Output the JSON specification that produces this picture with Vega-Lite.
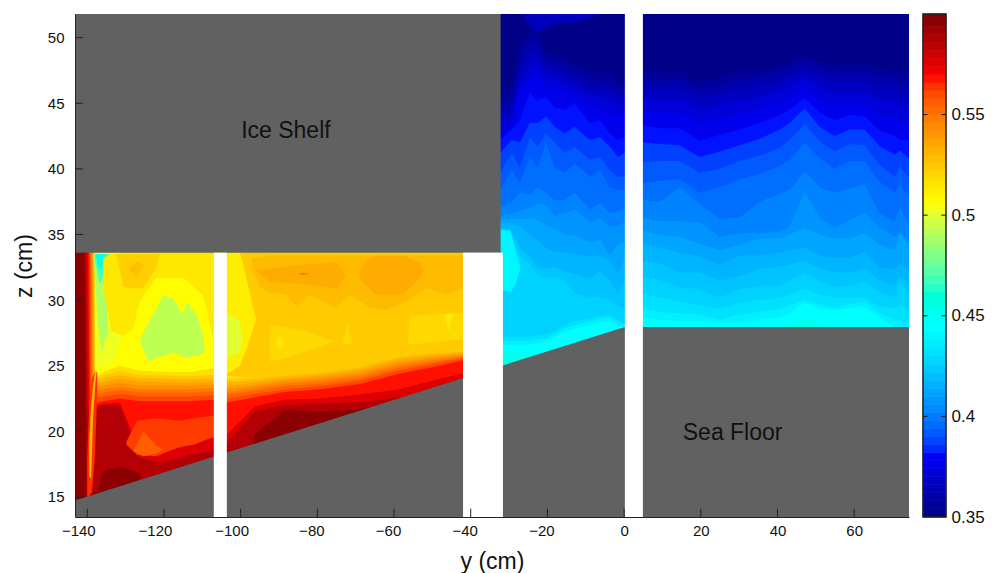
{"$schema":"https://vega.github.io/schema/vega-lite/v6.json","background":"white","padding":{"left":13,"top":13,"right":0,"bottom":0},"config":{"font":"Liberation Sans","view":{"stroke":null}},"spacing":13,"hconcat":[{"width":834,"height":503,"layer":[
{"data":{"values":[
{"l":0.452,"y":-32.4,"z":13.47},{"l":0.452,"y":74.3,"z":13.47},
{"l":0.444,"y":-32.4,"z":26.1},{"l":0.444,"y":-29.3,"z":26.1},{"l":0.444,"y":-27.2,"z":26},{"l":0.444,"y":-24.6,"z":25.9},{"l":0.444,"y":-22.5,"z":25.9},{"l":0.444,"y":-20.4,"z":25.9},{"l":0.444,"y":-18.1,"z":26},{"l":0.444,"y":-15.5,"z":26.3},{"l":0.444,"y":-12.9,"z":26.6},{"l":0.444,"y":-8.9,"z":26.9},{"l":0.444,"y":-6.3,"z":27},{"l":0.444,"y":-3.7,"z":27.2},{"l":0.444,"y":-1.6,"z":27.5},{"l":0.444,"y":0.2,"z":27.7},{"l":0.444,"y":4.9,"z":27.5},{"l":0.444,"y":35.4,"z":27.5},{"l":0.444,"y":40.6,"z":27.8},{"l":0.444,"y":43.2,"z":28.2},{"l":0.444,"y":47.1,"z":28.6},{"l":0.444,"y":51,"z":28.2},{"l":0.444,"y":54.9,"z":27.8},{"l":0.444,"y":58.8,"z":27.5},{"l":0.444,"y":74.3,"z":27.5},
{"l":0.438,"y":-32.4,"z":26.6},{"l":0.438,"y":-29.3,"z":26.6},{"l":0.438,"y":-27.2,"z":26.6},{"l":0.438,"y":-24.6,"z":26.6},{"l":0.438,"y":-22.5,"z":26.7},{"l":0.438,"y":-20.4,"z":26.8},{"l":0.438,"y":-18.1,"z":27.2},{"l":0.438,"y":-15.5,"z":27.6},{"l":0.438,"y":-12.9,"z":27.8},{"l":0.438,"y":-8.9,"z":28.1},{"l":0.438,"y":-6.3,"z":28.3},{"l":0.438,"y":-3.7,"z":28.4},{"l":0.438,"y":-1.6,"z":28},{"l":0.438,"y":0.2,"z":28},{"l":0.438,"y":4.9,"z":28.7},{"l":0.438,"y":9.3,"z":28.5},{"l":0.438,"y":14.5,"z":28.4},{"l":0.438,"y":19.7,"z":28.4},{"l":0.438,"y":24.9,"z":28.3},{"l":0.438,"y":30.1,"z":28.3},{"l":0.438,"y":35.4,"z":28.5},{"l":0.438,"y":40.6,"z":28.7},{"l":0.438,"y":43.2,"z":29},{"l":0.438,"y":47.1,"z":29.8},{"l":0.438,"y":51,"z":29.4},{"l":0.438,"y":54.9,"z":29.2},{"l":0.438,"y":58.8,"z":29.4},{"l":0.438,"y":62.7,"z":29.5},{"l":0.438,"y":66.7,"z":28.7},{"l":0.438,"y":70.6,"z":27.9},{"l":0.438,"y":71.9,"z":27.9},{"l":0.438,"y":74.3,"z":27.9},
{"l":0.432,"y":-32.4,"z":26.9},{"l":0.432,"y":-29.3,"z":26.9},{"l":0.432,"y":-27.2,"z":26.9},{"l":0.432,"y":-24.6,"z":26.9},{"l":0.432,"y":-22.5,"z":27},{"l":0.432,"y":-20.4,"z":27.1},{"l":0.432,"y":-18.1,"z":27.4},{"l":0.432,"y":-15.5,"z":27.9},{"l":0.432,"y":-12.9,"z":28.1},{"l":0.432,"y":-8.9,"z":28.4},{"l":0.432,"y":-6.3,"z":28.6},{"l":0.432,"y":-3.7,"z":28.7},{"l":0.432,"y":-1.6,"z":28.3},{"l":0.432,"y":0.2,"z":28.1},{"l":0.432,"y":4.9,"z":29.4},{"l":0.432,"y":9.3,"z":29.1},{"l":0.432,"y":14.5,"z":29},{"l":0.432,"y":19.7,"z":28.9},{"l":0.432,"y":24.9,"z":28.5},{"l":0.432,"y":30.1,"z":28.9},{"l":0.432,"y":35.4,"z":29.1},{"l":0.432,"y":40.6,"z":29.3},{"l":0.432,"y":43.2,"z":29.6},{"l":0.432,"y":47.1,"z":30},{"l":0.432,"y":51,"z":29.7},{"l":0.432,"y":54.9,"z":29.4},{"l":0.432,"y":58.8,"z":29.7},{"l":0.432,"y":62.7,"z":29.9},{"l":0.432,"y":66.7,"z":29},{"l":0.432,"y":70.6,"z":28.5},{"l":0.432,"y":71.9,"z":28.4},{"l":0.432,"y":74.3,"z":28.2},
{"l":0.427,"y":-32.4,"z":27.2},{"l":0.427,"y":-29.3,"z":27.2},{"l":0.427,"y":-27.2,"z":27.2},{"l":0.427,"y":-24.6,"z":27.2},{"l":0.427,"y":-22.5,"z":27.3},{"l":0.427,"y":-20.4,"z":27.4},{"l":0.427,"y":-18.1,"z":27.6},{"l":0.427,"y":-15.5,"z":28.1},{"l":0.427,"y":-12.9,"z":28.4},{"l":0.427,"y":-8.9,"z":28.6},{"l":0.427,"y":-6.3,"z":28.8},{"l":0.427,"y":-3.7,"z":28.9},{"l":0.427,"y":-1.6,"z":28.5},{"l":0.427,"y":0.2,"z":28.2},{"l":0.427,"y":4.9,"z":30.5},{"l":0.427,"y":9.3,"z":30.2},{"l":0.427,"y":14.5,"z":29.9},{"l":0.427,"y":19.7,"z":29.6},{"l":0.427,"y":24.9,"z":29.4},{"l":0.427,"y":30.1,"z":29.8},{"l":0.427,"y":35.4,"z":30},{"l":0.427,"y":40.6,"z":30.2},{"l":0.427,"y":43.2,"z":30.4},{"l":0.427,"y":47.1,"z":30.9},{"l":0.427,"y":51,"z":30.4},{"l":0.427,"y":54.9,"z":30.2},{"l":0.427,"y":58.8,"z":30.2},{"l":0.427,"y":62.7,"z":30.2},{"l":0.427,"y":66.7,"z":29.5},{"l":0.427,"y":70.6,"z":29.4},{"l":0.427,"y":71.9,"z":29.7},{"l":0.427,"y":74.3,"z":29.2},
{"l":0.422,"y":-32.4,"z":35.3},{"l":0.422,"y":-29.3,"z":34.9},{"l":0.422,"y":-27.2,"z":33.4},{"l":0.422,"y":-24.6,"z":32.8},{"l":0.422,"y":-22.5,"z":31.9},{"l":0.422,"y":-20.4,"z":31.7},{"l":0.422,"y":-18.1,"z":31.8},{"l":0.422,"y":-15.5,"z":31.5},{"l":0.422,"y":-12.9,"z":30.5},{"l":0.422,"y":-8.9,"z":30.2},{"l":0.422,"y":-6.3,"z":30.2},{"l":0.422,"y":-3.7,"z":30},{"l":0.422,"y":-1.6,"z":29.6},{"l":0.422,"y":0.2,"z":29.3},{"l":0.422,"y":4.9,"z":31.8},{"l":0.422,"y":9.3,"z":31.5},{"l":0.422,"y":14.5,"z":31},{"l":0.422,"y":19.7,"z":30.8},{"l":0.422,"y":24.9,"z":30.2},{"l":0.422,"y":30.1,"z":30.8},{"l":0.422,"y":35.4,"z":31.1},{"l":0.422,"y":40.6,"z":31.1},{"l":0.422,"y":43.2,"z":31.5},{"l":0.422,"y":47.1,"z":32.1},{"l":0.422,"y":51,"z":31.4},{"l":0.422,"y":54.9,"z":31},{"l":0.422,"y":58.8,"z":31.1},{"l":0.422,"y":62.7,"z":31.4},{"l":0.422,"y":66.7,"z":30.6},{"l":0.422,"y":70.6,"z":30.2},{"l":0.422,"y":71.9,"z":31.5},{"l":0.422,"y":74.3,"z":30.4},
{"l":0.417,"y":-32.4,"z":35.4},{"l":0.417,"y":-29.3,"z":35.2},{"l":0.417,"y":-27.2,"z":34},{"l":0.417,"y":-24.6,"z":33.3},{"l":0.417,"y":-22.5,"z":32.5},{"l":0.417,"y":-20.4,"z":32.4},{"l":0.417,"y":-18.1,"z":32.5},{"l":0.417,"y":-15.5,"z":32.2},{"l":0.417,"y":-12.9,"z":32},{"l":0.417,"y":-8.9,"z":31.6},{"l":0.417,"y":-6.3,"z":32.2},{"l":0.417,"y":-3.7,"z":31.5},{"l":0.417,"y":-1.6,"z":30.5},{"l":0.417,"y":0.2,"z":31.5},{"l":0.417,"y":4.9,"z":33},{"l":0.417,"y":9.3,"z":32.8},{"l":0.417,"y":14.5,"z":32.1},{"l":0.417,"y":19.7,"z":32.1},{"l":0.417,"y":24.9,"z":31.5},{"l":0.417,"y":30.1,"z":31.8},{"l":0.417,"y":35.4,"z":32.4},{"l":0.417,"y":40.6,"z":32.5},{"l":0.417,"y":43.2,"z":32.7},{"l":0.417,"y":47.1,"z":33},{"l":0.417,"y":51,"z":32.4},{"l":0.417,"y":54.9,"z":32.1},{"l":0.417,"y":58.8,"z":32.1},{"l":0.417,"y":62.7,"z":32.4},{"l":0.417,"y":66.7,"z":31.5},{"l":0.417,"y":70.6,"z":31.1},{"l":0.417,"y":71.9,"z":31.8},{"l":0.417,"y":74.3,"z":31.3},
{"l":0.412,"y":-32.4,"z":35.9},{"l":0.412,"y":-29.3,"z":35.8},{"l":0.412,"y":-27.2,"z":35.6},{"l":0.412,"y":-24.6,"z":35},{"l":0.412,"y":-22.5,"z":34.5},{"l":0.412,"y":-20.4,"z":34},{"l":0.412,"y":-18.1,"z":33.7},{"l":0.412,"y":-15.5,"z":33.6},{"l":0.412,"y":-12.9,"z":33.5},{"l":0.412,"y":-8.9,"z":33.3},{"l":0.412,"y":-6.3,"z":33.4},{"l":0.412,"y":-3.7,"z":33},{"l":0.412,"y":-1.6,"z":32},{"l":0.412,"y":0.2,"z":33.2},{"l":0.412,"y":4.9,"z":34.3},{"l":0.412,"y":9.3,"z":34},{"l":0.412,"y":14.5,"z":33.6},{"l":0.412,"y":19.7,"z":33.3},{"l":0.412,"y":24.9,"z":32.7},{"l":0.412,"y":30.1,"z":33.4},{"l":0.412,"y":35.4,"z":33.4},{"l":0.412,"y":40.6,"z":33.6},{"l":0.412,"y":43.2,"z":33.8},{"l":0.412,"y":47.1,"z":34},{"l":0.412,"y":51,"z":33.4},{"l":0.412,"y":54.9,"z":33.2},{"l":0.412,"y":58.8,"z":33.2},{"l":0.412,"y":62.7,"z":33.7},{"l":0.412,"y":66.7,"z":32.5},{"l":0.412,"y":70.6,"z":32.3},{"l":0.412,"y":71.9,"z":32.8},{"l":0.412,"y":74.3,"z":32.3},
{"l":0.407,"y":-32.4,"z":36.1},{"l":0.407,"y":-29.3,"z":36.2},{"l":0.407,"y":-27.2,"z":36.2},{"l":0.407,"y":-24.6,"z":36.2},{"l":0.407,"y":-22.5,"z":36.1},{"l":0.407,"y":-20.4,"z":35.7},{"l":0.407,"y":-18.1,"z":35.4},{"l":0.407,"y":-15.5,"z":35},{"l":0.407,"y":-12.9,"z":34.9},{"l":0.407,"y":-8.9,"z":34.4},{"l":0.407,"y":-6.3,"z":34.6},{"l":0.407,"y":-3.7,"z":33.5},{"l":0.407,"y":-1.6,"z":34.2},{"l":0.407,"y":0.2,"z":34.4},{"l":0.407,"y":4.9,"z":35.3},{"l":0.407,"y":9.3,"z":35},{"l":0.407,"y":14.5,"z":34.8},{"l":0.407,"y":19.7,"z":34.3},{"l":0.407,"y":24.9,"z":33.8},{"l":0.407,"y":30.1,"z":34.2},{"l":0.407,"y":35.4,"z":34.7},{"l":0.407,"y":40.6,"z":34.7},{"l":0.407,"y":43.2,"z":35},{"l":0.407,"y":47.1,"z":35.5},{"l":0.407,"y":51,"z":35},{"l":0.407,"y":54.9,"z":34.7},{"l":0.407,"y":58.8,"z":34.7},{"l":0.407,"y":62.7,"z":35.1},{"l":0.407,"y":66.7,"z":34.2},{"l":0.407,"y":70.6,"z":33.8},{"l":0.407,"y":71.9,"z":35.1},{"l":0.407,"y":74.3,"z":34.2},
{"l":0.402,"y":-32.4,"z":36.4},{"l":0.402,"y":-29.3,"z":36.6},{"l":0.402,"y":-27.2,"z":36.8},{"l":0.402,"y":-24.6,"z":37},{"l":0.402,"y":-22.5,"z":37.4},{"l":0.402,"y":-20.4,"z":37.2},{"l":0.402,"y":-18.1,"z":36.4},{"l":0.402,"y":-15.5,"z":36.6},{"l":0.402,"y":-12.9,"z":36.9},{"l":0.402,"y":-8.9,"z":35.9},{"l":0.402,"y":-6.3,"z":36.2},{"l":0.402,"y":-3.7,"z":35.6},{"l":0.402,"y":-1.6,"z":35.6},{"l":0.402,"y":0.2,"z":36},{"l":0.402,"y":4.9,"z":36.3},{"l":0.402,"y":9.3,"z":36},{"l":0.402,"y":14.5,"z":36},{"l":0.402,"y":19.7,"z":35.9},{"l":0.402,"y":24.9,"z":34.8},{"l":0.402,"y":30.1,"z":35.1},{"l":0.402,"y":35.4,"z":35.1},{"l":0.402,"y":40.6,"z":35.2},{"l":0.402,"y":43.2,"z":35.6},{"l":0.402,"y":47.1,"z":38.2},{"l":0.402,"y":51,"z":36.3},{"l":0.402,"y":54.9,"z":35.5},{"l":0.402,"y":58.8,"z":36.1},{"l":0.402,"y":62.7,"z":36.6},{"l":0.402,"y":66.7,"z":35.5},{"l":0.402,"y":70.6,"z":34.8},{"l":0.402,"y":71.9,"z":35.2},{"l":0.402,"y":74.3,"z":34.4},
{"l":0.397,"y":-32.4,"z":37},{"l":0.397,"y":-29.3,"z":37.5},{"l":0.397,"y":-27.2,"z":38.2},{"l":0.397,"y":-24.6,"z":38},{"l":0.397,"y":-22.5,"z":38.6},{"l":0.397,"y":-20.4,"z":38.2},{"l":0.397,"y":-18.1,"z":37.6},{"l":0.397,"y":-15.5,"z":37.6},{"l":0.397,"y":-12.9,"z":38.2},{"l":0.397,"y":-8.9,"z":36.9},{"l":0.397,"y":-6.3,"z":37.4},{"l":0.397,"y":-3.7,"z":36.6},{"l":0.397,"y":-1.6,"z":36.8},{"l":0.397,"y":0.2,"z":37},{"l":0.397,"y":4.9,"z":37.6},{"l":0.397,"y":9.3,"z":37.5},{"l":0.397,"y":14.5,"z":38.6},{"l":0.397,"y":19.7,"z":37.3},{"l":0.397,"y":24.9,"z":36.2},{"l":0.397,"y":30.1,"z":36.3},{"l":0.397,"y":35.4,"z":37.5},{"l":0.397,"y":40.6,"z":38.1},{"l":0.397,"y":43.2,"z":38.4},{"l":0.397,"y":47.1,"z":39.8},{"l":0.397,"y":51,"z":38.6},{"l":0.397,"y":54.9,"z":38.2},{"l":0.397,"y":58.8,"z":38.5},{"l":0.397,"y":62.7,"z":38.8},{"l":0.397,"y":66.7,"z":36.6},{"l":0.397,"y":70.6,"z":36},{"l":0.397,"y":71.9,"z":37.1},{"l":0.397,"y":74.3,"z":35.7},
{"l":0.392,"y":-32.4,"z":38.4},{"l":0.392,"y":-29.3,"z":39.9},{"l":0.392,"y":-27.2,"z":38.9},{"l":0.392,"y":-24.6,"z":40.9},{"l":0.392,"y":-22.5,"z":40.1},{"l":0.392,"y":-20.4,"z":42},{"l":0.392,"y":-18.1,"z":40.1},{"l":0.392,"y":-15.5,"z":39.7},{"l":0.392,"y":-12.9,"z":40.4},{"l":0.392,"y":-8.9,"z":39.4},{"l":0.392,"y":-6.3,"z":39.9},{"l":0.392,"y":-3.7,"z":38.6},{"l":0.392,"y":-1.6,"z":38.4},{"l":0.392,"y":0.2,"z":38.4},{"l":0.392,"y":4.9,"z":38.9},{"l":0.392,"y":9.3,"z":39.1},{"l":0.392,"y":14.5,"z":39.2},{"l":0.392,"y":19.7,"z":38.2},{"l":0.392,"y":24.9,"z":38.6},{"l":0.392,"y":30.1,"z":39.2},{"l":0.392,"y":35.4,"z":39.6},{"l":0.392,"y":40.6,"z":40.2},{"l":0.392,"y":43.2,"z":40.7},{"l":0.392,"y":47.1,"z":42},{"l":0.392,"y":51,"z":40.8},{"l":0.392,"y":54.9,"z":40},{"l":0.392,"y":58.8,"z":40.6},{"l":0.392,"y":62.7,"z":40.6},{"l":0.392,"y":66.7,"z":39},{"l":0.392,"y":70.6,"z":38.2},{"l":0.392,"y":71.9,"z":38.8},{"l":0.392,"y":74.3,"z":37.9},
{"l":0.387,"y":-32.4,"z":39.7},{"l":0.387,"y":-29.3,"z":41.2},{"l":0.387,"y":-27.2,"z":40.1},{"l":0.387,"y":-24.6,"z":42.4},{"l":0.387,"y":-22.5,"z":41.7},{"l":0.387,"y":-20.4,"z":42.7},{"l":0.387,"y":-18.1,"z":42},{"l":0.387,"y":-15.5,"z":41.2},{"l":0.387,"y":-12.9,"z":41.7},{"l":0.387,"y":-8.9,"z":40.7},{"l":0.387,"y":-6.3,"z":40.9},{"l":0.387,"y":-3.7,"z":39.9},{"l":0.387,"y":-1.6,"z":39.4},{"l":0.387,"y":0.2,"z":39.4},{"l":0.387,"y":4.9,"z":40.5},{"l":0.387,"y":9.3,"z":40.6},{"l":0.387,"y":14.5,"z":40.6},{"l":0.387,"y":19.7,"z":39.7},{"l":0.387,"y":24.9,"z":40},{"l":0.387,"y":30.1,"z":40.6},{"l":0.387,"y":35.4,"z":41},{"l":0.387,"y":40.6,"z":41.6},{"l":0.387,"y":43.2,"z":42.2},{"l":0.387,"y":47.1,"z":43.4},{"l":0.387,"y":51,"z":42.1},{"l":0.387,"y":54.9,"z":41.3},{"l":0.387,"y":58.8,"z":41.9},{"l":0.387,"y":62.7,"z":41.8},{"l":0.387,"y":66.7,"z":40.3},{"l":0.387,"y":70.6,"z":39.4},{"l":0.387,"y":71.9,"z":40.2},{"l":0.387,"y":74.3,"z":39.3},
{"l":0.382,"y":-32.4,"z":41.2},{"l":0.382,"y":-29.3,"z":42.2},{"l":0.382,"y":-27.2,"z":42},{"l":0.382,"y":-24.6,"z":43.5},{"l":0.382,"y":-22.5,"z":43.5},{"l":0.382,"y":-20.4,"z":44},{"l":0.382,"y":-18.1,"z":43.2},{"l":0.382,"y":-15.5,"z":42.7},{"l":0.382,"y":-12.9,"z":43.2},{"l":0.382,"y":-8.9,"z":42.2},{"l":0.382,"y":-6.3,"z":42.4},{"l":0.382,"y":-3.7,"z":41.7},{"l":0.382,"y":-1.6,"z":40.9},{"l":0.382,"y":0.2,"z":41.2},{"l":0.382,"y":4.9,"z":42},{"l":0.382,"y":9.3,"z":41.9},{"l":0.382,"y":14.5,"z":41.8},{"l":0.382,"y":19.7,"z":40.9},{"l":0.382,"y":24.9,"z":41.3},{"l":0.382,"y":30.1,"z":41.8},{"l":0.382,"y":35.4,"z":42.3},{"l":0.382,"y":40.6,"z":43},{"l":0.382,"y":43.2,"z":43.5},{"l":0.382,"y":47.1,"z":44.6},{"l":0.382,"y":51,"z":43.2},{"l":0.382,"y":54.9,"z":42.5},{"l":0.382,"y":58.8,"z":43},{"l":0.382,"y":62.7,"z":43},{"l":0.382,"y":66.7,"z":41.7},{"l":0.382,"y":70.6,"z":41.1},{"l":0.382,"y":71.9,"z":41.4},{"l":0.382,"y":74.3,"z":40.8},
{"l":0.377,"y":-32.4,"z":42.2},{"l":0.377,"y":-29.3,"z":43},{"l":0.377,"y":-27.2,"z":43.7},{"l":0.377,"y":-24.6,"z":45.8},{"l":0.377,"y":-22.5,"z":45.2},{"l":0.377,"y":-20.4,"z":45.5},{"l":0.377,"y":-18.1,"z":44.7},{"l":0.377,"y":-15.5,"z":44.5},{"l":0.377,"y":-12.9,"z":45},{"l":0.377,"y":-8.9,"z":43.5},{"l":0.377,"y":-6.3,"z":43.7},{"l":0.377,"y":-3.7,"z":42.7},{"l":0.377,"y":-1.6,"z":42.2},{"l":0.377,"y":0.2,"z":42.4},{"l":0.377,"y":4.9,"z":43.3},{"l":0.377,"y":9.3,"z":43.1},{"l":0.377,"y":14.5,"z":43.1},{"l":0.377,"y":19.7,"z":42.1},{"l":0.377,"y":24.9,"z":42.6},{"l":0.377,"y":30.1,"z":43},{"l":0.377,"y":35.4,"z":43.5},{"l":0.377,"y":40.6,"z":44.1},{"l":0.377,"y":43.2,"z":44.5},{"l":0.377,"y":47.1,"z":45.4},{"l":0.377,"y":51,"z":44.3},{"l":0.377,"y":54.9,"z":43.7},{"l":0.377,"y":58.8,"z":44.1},{"l":0.377,"y":62.7,"z":44},{"l":0.377,"y":66.7,"z":42.9},{"l":0.377,"y":70.6,"z":42.5},{"l":0.377,"y":71.9,"z":42.2},{"l":0.377,"y":74.3,"z":42.2},
{"l":0.372,"y":-32.4,"z":42.5},{"l":0.372,"y":-29.3,"z":43.2},{"l":0.372,"y":-27.2,"z":46},{"l":0.372,"y":-24.6,"z":46.8},{"l":0.372,"y":-22.5,"z":47},{"l":0.372,"y":-20.4,"z":46.2},{"l":0.372,"y":-18.1,"z":46.2},{"l":0.372,"y":-15.5,"z":45.8},{"l":0.372,"y":-12.9,"z":45.6},{"l":0.372,"y":-8.9,"z":44.8},{"l":0.372,"y":-6.3,"z":44.6},{"l":0.372,"y":-3.7,"z":44.2},{"l":0.372,"y":-1.6,"z":44},{"l":0.372,"y":0.2,"z":44.2},{"l":0.372,"y":4.9,"z":44.5},{"l":0.372,"y":9.3,"z":44.3},{"l":0.372,"y":14.5,"z":44.3},{"l":0.372,"y":19.7,"z":43.4},{"l":0.372,"y":24.9,"z":43.8},{"l":0.372,"y":30.1,"z":44.2},{"l":0.372,"y":35.4,"z":44.6},{"l":0.372,"y":40.6,"z":45},{"l":0.372,"y":43.2,"z":45.4},{"l":0.372,"y":47.1,"z":46.2},{"l":0.372,"y":51,"z":45.3},{"l":0.372,"y":54.9,"z":44.8},{"l":0.372,"y":58.8,"z":45},{"l":0.372,"y":62.7,"z":44.9},{"l":0.372,"y":66.7,"z":44},{"l":0.372,"y":70.6,"z":44},{"l":0.372,"y":71.9,"z":43.5},{"l":0.372,"y":74.3,"z":43.5},
{"l":0.367,"y":-32.4,"z":43.5},{"l":0.367,"y":-29.3,"z":44},{"l":0.367,"y":-27.2,"z":46.7},{"l":0.367,"y":-24.6,"z":47.8},{"l":0.367,"y":-22.5,"z":48},{"l":0.367,"y":-20.4,"z":47},{"l":0.367,"y":-18.1,"z":47},{"l":0.367,"y":-15.5,"z":46.6},{"l":0.367,"y":-12.9,"z":46.2},{"l":0.367,"y":-8.9,"z":45.6},{"l":0.367,"y":-6.3,"z":45.4},{"l":0.367,"y":-3.7,"z":45.3},{"l":0.367,"y":-1.6,"z":44.9},{"l":0.367,"y":0.2,"z":45},{"l":0.367,"y":4.9,"z":45.4},{"l":0.367,"y":9.3,"z":45.2},{"l":0.367,"y":14.5,"z":45.3},{"l":0.367,"y":19.7,"z":44.5},{"l":0.367,"y":24.9,"z":44.8},{"l":0.367,"y":30.1,"z":45.2},{"l":0.367,"y":35.4,"z":45.5},{"l":0.367,"y":40.6,"z":46},{"l":0.367,"y":43.2,"z":46.3},{"l":0.367,"y":47.1,"z":47},{"l":0.367,"y":51,"z":46.2},{"l":0.367,"y":54.9,"z":45.8},{"l":0.367,"y":58.8,"z":45.9},{"l":0.367,"y":62.7,"z":45.8},{"l":0.367,"y":66.7,"z":45.2},{"l":0.367,"y":70.6,"z":45.2},{"l":0.367,"y":71.9,"z":44.7},{"l":0.367,"y":74.3,"z":44.9},
{"l":0.362,"y":-32.4,"z":44.2},{"l":0.362,"y":-29.3,"z":44.5},{"l":0.362,"y":-27.2,"z":47.5},{"l":0.362,"y":-24.6,"z":48.8},{"l":0.362,"y":-22.5,"z":49},{"l":0.362,"y":-20.4,"z":47.6},{"l":0.362,"y":-18.1,"z":47.6},{"l":0.362,"y":-15.5,"z":47.2},{"l":0.362,"y":-12.9,"z":46.8},{"l":0.362,"y":-8.9,"z":46.2},{"l":0.362,"y":-6.3,"z":46},{"l":0.362,"y":-3.7,"z":46},{"l":0.362,"y":-1.6,"z":45.5},{"l":0.362,"y":0.2,"z":45.6},{"l":0.362,"y":4.9,"z":46.2},{"l":0.362,"y":9.3,"z":46},{"l":0.362,"y":14.5,"z":46.1},{"l":0.362,"y":19.7,"z":45.4},{"l":0.362,"y":24.9,"z":45.6},{"l":0.362,"y":30.1,"z":46},{"l":0.362,"y":35.4,"z":46.3},{"l":0.362,"y":40.6,"z":46.7},{"l":0.362,"y":43.2,"z":47},{"l":0.362,"y":47.1,"z":47.6},{"l":0.362,"y":51,"z":47},{"l":0.362,"y":54.9,"z":46.6},{"l":0.362,"y":58.8,"z":46.7},{"l":0.362,"y":62.7,"z":46.6},{"l":0.362,"y":66.7,"z":46.1},{"l":0.362,"y":70.6,"z":46.2},{"l":0.362,"y":71.9,"z":45.5},{"l":0.362,"y":74.3,"z":45.7},
{"l":0.357,"y":-32.4,"z":44.8},{"l":0.357,"y":-29.3,"z":45.2},{"l":0.357,"y":-27.2,"z":48.3},{"l":0.357,"y":-24.6,"z":49.6},{"l":0.357,"y":-22.5,"z":49.7},{"l":0.357,"y":-20.4,"z":48.2},{"l":0.357,"y":-18.1,"z":48.2},{"l":0.357,"y":-15.5,"z":47.8},{"l":0.357,"y":-12.9,"z":47.4},{"l":0.357,"y":-8.9,"z":46.8},{"l":0.357,"y":-6.3,"z":46.6},{"l":0.357,"y":-3.7,"z":46.6},{"l":0.357,"y":-1.6,"z":46},{"l":0.357,"y":0.2,"z":46.2},{"l":0.357,"y":4.9,"z":46.9},{"l":0.357,"y":9.3,"z":46.7},{"l":0.357,"y":14.5,"z":46.8},{"l":0.357,"y":19.7,"z":46.1},{"l":0.357,"y":24.9,"z":46.3},{"l":0.357,"y":30.1,"z":46.8},{"l":0.357,"y":35.4,"z":47},{"l":0.357,"y":40.6,"z":47.4},{"l":0.357,"y":43.2,"z":47.6},{"l":0.357,"y":47.1,"z":48.2},{"l":0.357,"y":51,"z":47.7},{"l":0.357,"y":54.9,"z":47.3},{"l":0.357,"y":58.8,"z":47.4},{"l":0.357,"y":62.7,"z":47.3},{"l":0.357,"y":66.7,"z":47},{"l":0.357,"y":70.6,"z":47},{"l":0.357,"y":71.9,"z":46.4},{"l":0.357,"y":74.3,"z":46.6},
{"l":0.352,"y":-32.4,"z":45.8},{"l":0.352,"y":-29.3,"z":46.2},{"l":0.352,"y":-27.2,"z":49},{"l":0.352,"y":-24.6,"z":50.4},{"l":0.352,"y":-22.5,"z":50.4},{"l":0.352,"y":-20.4,"z":48.8},{"l":0.352,"y":-18.1,"z":48.8},{"l":0.352,"y":-15.5,"z":48.3},{"l":0.352,"y":-12.9,"z":47.9},{"l":0.352,"y":-8.9,"z":47.4},{"l":0.352,"y":-6.3,"z":47.2},{"l":0.352,"y":-3.7,"z":47.3},{"l":0.352,"y":-1.6,"z":46.5},{"l":0.352,"y":0.2,"z":46.6},{"l":0.352,"y":4.9,"z":47.5},{"l":0.352,"y":9.3,"z":47.3},{"l":0.352,"y":14.5,"z":47.4},{"l":0.352,"y":19.7,"z":46.6},{"l":0.352,"y":24.9,"z":47},{"l":0.352,"y":30.1,"z":47.4},{"l":0.352,"y":35.4,"z":47.5},{"l":0.352,"y":40.6,"z":47.8},{"l":0.352,"y":43.2,"z":48.2},{"l":0.352,"y":47.1,"z":48.7},{"l":0.352,"y":51,"z":48.2},{"l":0.352,"y":54.9,"z":47.8},{"l":0.352,"y":58.8,"z":47.9},{"l":0.352,"y":62.7,"z":47.9},{"l":0.352,"y":66.7,"z":47.7},{"l":0.352,"y":70.6,"z":47.5},{"l":0.352,"y":71.9,"z":47.4},{"l":0.352,"y":74.3,"z":47.3},
{"l":0.597,"y":-143.2,"z":13.47},{"l":0.597,"y":-42,"z":13.47},
{"l":0.587,"y":-140.6,"z":33.6},{"l":0.587,"y":-140.3,"z":15},{"l":0.587,"y":-137.2,"z":15.5},{"l":0.587,"y":-135.9,"z":17},{"l":0.587,"y":-131.5,"z":17.3},{"l":0.587,"y":-126.3,"z":16.8},{"l":0.587,"y":-121,"z":10},{"l":0.587,"y":-103.4,"z":10},{"l":0.587,"y":-96.3,"z":19.8},{"l":0.587,"y":-88.5,"z":21.6},{"l":0.587,"y":-79.3,"z":21.5},{"l":0.587,"y":-68.9,"z":21.7},{"l":0.587,"y":-66.3,"z":21.8},{"l":0.587,"y":-58.5,"z":10},{"l":0.587,"y":-42,"z":10},
{"l":0.577,"y":-140.3,"z":33.6},{"l":0.577,"y":-140,"z":21.5},{"l":0.577,"y":-137.2,"z":21.8},{"l":0.577,"y":-135.9,"z":22},{"l":0.577,"y":-131.5,"z":22},{"l":0.577,"y":-126.3,"z":18},{"l":0.577,"y":-121,"z":17.6},{"l":0.577,"y":-113.2,"z":18.2},{"l":0.577,"y":-107,"z":18.6},{"l":0.577,"y":-103.4,"z":19.2},{"l":0.577,"y":-96.3,"z":21.5},{"l":0.577,"y":-88.5,"z":22},{"l":0.577,"y":-79.3,"z":22.1},{"l":0.577,"y":-68.9,"z":22.2},{"l":0.577,"y":-58.5,"z":22.6},{"l":0.577,"y":-48.1,"z":10},{"l":0.577,"y":-42,"z":10},
{"l":0.568,"y":-139.8,"z":33.6},{"l":0.568,"y":-139.6,"z":22},{"l":0.568,"y":-137.2,"z":22},{"l":0.568,"y":-135.9,"z":22.1},{"l":0.568,"y":-131.5,"z":22.2},{"l":0.568,"y":-126.3,"z":18.5},{"l":0.568,"y":-121,"z":18.3},{"l":0.568,"y":-113.2,"z":19},{"l":0.568,"y":-107,"z":19.5},{"l":0.568,"y":-103.4,"z":19.8},{"l":0.568,"y":-96.3,"z":21.9},{"l":0.568,"y":-88.5,"z":22.4},{"l":0.568,"y":-79.3,"z":22.5},{"l":0.568,"y":-68.9,"z":22.8},{"l":0.568,"y":-58.5,"z":23.2},{"l":0.568,"y":-48.1,"z":24},{"l":0.568,"y":-42,"z":24.4},
{"l":0.561,"y":-139.5,"z":33.6},{"l":0.561,"y":-139.3,"z":22.2},{"l":0.561,"y":-137.2,"z":22.2},{"l":0.561,"y":-135.9,"z":22.3},{"l":0.561,"y":-131.5,"z":22.5},{"l":0.561,"y":-126.3,"z":22.3},{"l":0.561,"y":-113.2,"z":22.3},{"l":0.561,"y":-107,"z":22.4},{"l":0.561,"y":-103.4,"z":22.2},{"l":0.561,"y":-96.3,"z":22.6},{"l":0.561,"y":-88.5,"z":23},{"l":0.561,"y":-79.3,"z":23.2},{"l":0.561,"y":-68.9,"z":23.6},{"l":0.561,"y":-58.5,"z":24.4},{"l":0.561,"y":-48.1,"z":25},{"l":0.561,"y":-42,"z":25.4},
{"l":0.555,"y":-139.3,"z":33.6},{"l":0.555,"y":-139.1,"z":22.55},{"l":0.555,"y":-137.2,"z":22.55},{"l":0.555,"y":-135.9,"z":22.65},{"l":0.555,"y":-131.5,"z":22.85},{"l":0.555,"y":-126.3,"z":22.65},{"l":0.555,"y":-113.2,"z":22.65},{"l":0.555,"y":-107,"z":22.75},{"l":0.555,"y":-103.4,"z":22.5},{"l":0.555,"y":-96.3,"z":22.85},{"l":0.555,"y":-88.5,"z":23.2},{"l":0.555,"y":-79.3,"z":23.45},{"l":0.555,"y":-68.9,"z":23.85},{"l":0.555,"y":-58.5,"z":24.65},{"l":0.555,"y":-48.1,"z":25.2},{"l":0.555,"y":-42,"z":25.55},
{"l":0.549,"y":-139.1,"z":33.6},{"l":0.549,"y":-138.9,"z":22.85},{"l":0.549,"y":-137.2,"z":22.85},{"l":0.549,"y":-135.9,"z":22.95},{"l":0.549,"y":-131.5,"z":23.15},{"l":0.549,"y":-126.3,"z":22.95},{"l":0.549,"y":-113.2,"z":22.95},{"l":0.549,"y":-107,"z":23.05},{"l":0.549,"y":-103.4,"z":22.8},{"l":0.549,"y":-96.3,"z":23.1},{"l":0.549,"y":-88.5,"z":23.45},{"l":0.549,"y":-79.3,"z":23.65},{"l":0.549,"y":-68.9,"z":24.05},{"l":0.549,"y":-58.5,"z":24.85},{"l":0.549,"y":-48.1,"z":25.35},{"l":0.549,"y":-42,"z":25.65},
{"l":0.543,"y":-138.9,"z":33.6},{"l":0.543,"y":-138.7,"z":23.1},{"l":0.543,"y":-137.2,"z":23.1},{"l":0.543,"y":-135.9,"z":23.2},{"l":0.543,"y":-131.5,"z":23.4},{"l":0.543,"y":-126.3,"z":23.2},{"l":0.543,"y":-113.2,"z":23.2},{"l":0.543,"y":-107,"z":23.3},{"l":0.543,"y":-103.4,"z":23},{"l":0.543,"y":-96.3,"z":23.3},{"l":0.543,"y":-88.5,"z":23.65},{"l":0.543,"y":-79.3,"z":23.85},{"l":0.543,"y":-68.9,"z":24.25},{"l":0.543,"y":-58.5,"z":25.05},{"l":0.543,"y":-48.1,"z":25.5},{"l":0.543,"y":-42,"z":25.75},
{"l":0.537,"y":-138.7,"z":33.6},{"l":0.537,"y":-138.5,"z":23.4},{"l":0.537,"y":-137.2,"z":23.4},{"l":0.537,"y":-135.9,"z":23.5},{"l":0.537,"y":-131.5,"z":23.7},{"l":0.537,"y":-126.3,"z":23.5},{"l":0.537,"y":-113.2,"z":23.45},{"l":0.537,"y":-107,"z":23.55},{"l":0.537,"y":-103.4,"z":23.25},{"l":0.537,"y":-96.3,"z":23.5},{"l":0.537,"y":-88.5,"z":23.85},{"l":0.537,"y":-79.3,"z":24.05},{"l":0.537,"y":-68.9,"z":24.45},{"l":0.537,"y":-58.5,"z":25.25},{"l":0.537,"y":-48.1,"z":25.65},{"l":0.537,"y":-42,"z":25.85},
{"l":0.531,"y":-138.5,"z":33.6},{"l":0.531,"y":-138.3,"z":23.6},{"l":0.531,"y":-137.2,"z":23.6},{"l":0.531,"y":-135.9,"z":23.75},{"l":0.531,"y":-131.5,"z":24},{"l":0.531,"y":-126.3,"z":23.8},{"l":0.531,"y":-113.2,"z":23.7},{"l":0.531,"y":-107,"z":23.8},{"l":0.531,"y":-103.4,"z":23.5},{"l":0.531,"y":-96.3,"z":23.7},{"l":0.531,"y":-88.5,"z":24},{"l":0.531,"y":-79.3,"z":24.25},{"l":0.531,"y":-68.9,"z":24.65},{"l":0.531,"y":-58.5,"z":25.45},{"l":0.531,"y":-48.1,"z":25.8},{"l":0.531,"y":-42,"z":25.95},
{"l":0.525,"y":-138.3,"z":33.6},{"l":0.525,"y":-138.1,"z":23.85},{"l":0.525,"y":-137.2,"z":23.85},{"l":0.525,"y":-135.9,"z":24},{"l":0.525,"y":-131.5,"z":24.3},{"l":0.525,"y":-126.3,"z":24.05},{"l":0.525,"y":-113.2,"z":23.95},{"l":0.525,"y":-107,"z":24.05},{"l":0.525,"y":-103.4,"z":23.75},{"l":0.525,"y":-96.3,"z":23.9},{"l":0.525,"y":-88.5,"z":24.2},{"l":0.525,"y":-79.3,"z":24.4},{"l":0.525,"y":-68.9,"z":24.85},{"l":0.525,"y":-58.5,"z":25.65},{"l":0.525,"y":-48.1,"z":25.95},{"l":0.525,"y":-42,"z":26.05},
{"l":0.518,"y":-138.1,"z":33.6},{"l":0.518,"y":-137.9,"z":24.05},{"l":0.518,"y":-137.2,"z":24.05},{"l":0.518,"y":-135.9,"z":24.25},{"l":0.518,"y":-131.5,"z":24.6},{"l":0.518,"y":-126.3,"z":24.3},{"l":0.518,"y":-113.2,"z":24.2},{"l":0.518,"y":-107,"z":24.3},{"l":0.518,"y":-103.4,"z":23.95},{"l":0.518,"y":-96.3,"z":24.1},{"l":0.518,"y":-88.5,"z":24.35},{"l":0.518,"y":-79.3,"z":24.6},{"l":0.518,"y":-68.9,"z":25},{"l":0.518,"y":-58.5,"z":25.8},{"l":0.518,"y":-48.1,"z":26.05},{"l":0.518,"y":-42,"z":26.15},
{"l":0.507,"y":-137.9,"z":33.6},{"l":0.507,"y":-137.7,"z":24.2},{"l":0.507,"y":-137.2,"z":24.2},{"l":0.507,"y":-135.9,"z":24.5},{"l":0.507,"y":-131.5,"z":25},{"l":0.507,"y":-126.3,"z":24.6},{"l":0.507,"y":-113.2,"z":24.5},{"l":0.507,"y":-107,"z":24.8},{"l":0.507,"y":-103.4,"z":24.2},{"l":0.507,"y":-96.3,"z":24.3},{"l":0.507,"y":-88.5,"z":24.6},{"l":0.507,"y":-79.3,"z":24.8},{"l":0.507,"y":-68.9,"z":25.2},{"l":0.507,"y":-58.5,"z":26},{"l":0.507,"y":-48.1,"z":26.2},{"l":0.507,"y":-42,"z":26.2}
]},"mark":{"type":"area","clip":true},"encoding":{"x":{"field":"y","type":"quantitative","scale":{"domain":[-143.2,74.3],"nice":false,"zero":false},"title":"y (cm)","axis":{"values":[-140,-120,-100,-80,-60,-40,-20,0,20,40,60],"grid":false,"ticks":false,"domainColor":"#222","labelFontSize":15,"labelColor":"#111","labelPadding":6,"titleFontSize":23,"titleFontWeight":"normal","titleColor":"#111","titlePadding":12,"zindex":1,"labelFlush":false,"labelOffset":{"condition":[{"test":"datum.value<=-100","value":-9},{"test":"datum.value<0","value":-6}],"value":0}}},"y":{"field":"z","type":"quantitative","stack":null,"scale":{"domain":[13.47,51.8],"nice":false,"zero":false},"title":"z (cm)","axis":{"values":[15,20,25,30,35,40,45,50],"grid":false,"ticks":false,"domainColor":"#222","labelFontSize":15,"labelColor":"#111","labelPadding":11,"titleFontSize":23,"titleFontWeight":"normal","titleColor":"#111","titlePadding":11,"zindex":1}},"y2":{"datum":51.8},"detail":{"field":"l"},"color":{"field":"l","type":"quantitative","legend":null,"scale":{"domain":[0.35,0.38125,0.44375,0.50625,0.56875,0.6],"range":["#000080","#0000ff","#00ffff","#ffff00","#ff0000","#800000"]}}}},
{"data":{"values":[
{"l":0.4401,"y":-32.4,"z":30.8,"t":35.4},{"l":0.4401,"y":-29.6,"z":30.6,"t":35.3},{"l":0.4401,"y":-28.3,"z":31.2,"t":33.8},{"l":0.4401,"y":-27,"z":32.5,"t":32.5},
{"l":0.3651,"y":-26.5,"z":51.8,"t":51.8},{"l":0.3651,"y":-24,"z":50.6,"t":51.8},{"l":0.3651,"y":-22,"z":50.4,"t":51.8},{"l":0.3651,"y":-19,"z":51,"t":51.8},{"l":0.3651,"y":-12,"z":51.2,"t":51.8},{"l":0.3651,"y":-6,"z":51.8,"t":51.8},
{"l":0.5651,"y":-140,"z":14.9,"t":18},{"l":0.5651,"y":-139.5,"z":15,"t":22},{"l":0.5651,"y":-138.8,"z":15.4,"t":24},{"l":0.5651,"y":-138,"z":18,"t":24.5},{"l":0.5651,"y":-137.4,"z":23,"t":24.5},
{"l":0.5301,"y":-139.5,"z":16.6,"t":19},{"l":0.5301,"y":-139,"z":16.4,"t":22},{"l":0.5301,"y":-138.5,"z":21,"t":23.5},{"l":0.5301,"y":-138,"z":23.2,"t":24.5},{"l":0.5301,"y":-137.6,"z":24.5,"t":24.5},
{"l":0.5631,"y":-129.8,"z":19,"t":19.2},{"l":0.5631,"y":-127,"z":18.2,"t":20.8},{"l":0.5631,"y":-122,"z":18.1,"t":21},{"l":0.5631,"y":-116,"z":18.8,"t":20.8},{"l":0.5631,"y":-112,"z":19,"t":21},{"l":0.5631,"y":-107,"z":19.6,"t":21.2},
{"l":0.5561,"y":-128,"z":18.5,"t":18.5},{"l":0.5561,"y":-125.4,"z":18.1,"t":20},{"l":0.5561,"y":-122,"z":18.3,"t":18.9},{"l":0.5561,"y":-120.2,"z":18.6,"t":18.6},
{"l":0.5031,"y":-138,"z":24.6,"t":33.6},{"l":0.5031,"y":-135.9,"z":25,"t":33.6},{"l":0.5031,"y":-133.7,"z":25,"t":27.7},{"l":0.5031,"y":-131.1,"z":26.9,"t":27.2},
{"l":0.4901,"y":-138.4,"z":33.5,"t":33.5},{"l":0.4901,"y":-137.2,"z":28,"t":33.5},{"l":0.4901,"y":-136,"z":25.9,"t":33.5},{"l":0.4901,"y":-135.5,"z":27,"t":33.5},{"l":0.4901,"y":-134.5,"z":27.5,"t":27.5},
{"l":0.4701,"y":-138,"z":33,"t":33.5},{"l":0.4701,"y":-136.7,"z":31.2,"t":33.5},{"l":0.4701,"y":-134,"z":33,"t":33.5},
{"l":0.4521,"y":-137.9,"z":33.5,"t":33.5},{"l":0.4521,"y":-136.7,"z":32.2,"t":33.5},{"l":0.4521,"y":-134.9,"z":33.5,"t":33.5},
{"l":0.5141,"y":-135.9,"z":31.1,"t":33.2},{"l":0.5141,"y":-133.7,"z":27.6,"t":33.5},{"l":0.5141,"y":-130.6,"z":27.3,"t":33.6},{"l":0.5141,"y":-128,"z":27.85,"t":33.6},{"l":0.5141,"y":-126.3,"z":29.9,"t":33.6},{"l":0.5141,"y":-122,"z":31.7,"t":33.6},{"l":0.5141,"y":-115,"z":31.7,"t":33.6},{"l":0.5141,"y":-109.8,"z":30.4,"t":33.6},{"l":0.5141,"y":-107.2,"z":27.1,"t":33.6},{"l":0.5141,"y":-104,"z":27,"t":33.6},
{"l":0.5221,"y":-132.4,"z":33.5,"t":33.5},{"l":0.5221,"y":-130.6,"z":31,"t":33.5},{"l":0.5221,"y":-128,"z":30.9,"t":33.5},{"l":0.5221,"y":-125.4,"z":30.9,"t":33.5},{"l":0.5221,"y":-122,"z":32.4,"t":33.5},{"l":0.5221,"y":-121,"z":33.5,"t":33.5},
{"l":0.5281,"y":-129,"z":32.3,"t":32.5},{"l":0.5281,"y":-127,"z":31.7,"t":32.9},{"l":0.5281,"y":-125.4,"z":32.5,"t":32.7},
{"l":0.4931,"y":-126.3,"z":26.9,"t":26.9},{"l":0.4931,"y":-124.1,"z":25.3,"t":28.3},{"l":0.4931,"y":-122,"z":25.6,"t":29.3},{"l":0.4931,"y":-120.2,"z":25.7,"t":30.4},{"l":0.4931,"y":-117.6,"z":26,"t":30.1},{"l":0.4931,"y":-115,"z":25.7,"t":28.9},{"l":0.4931,"y":-114.1,"z":25.6,"t":29.9},{"l":0.4931,"y":-111.5,"z":25.8,"t":28.9},{"l":0.4931,"y":-109.8,"z":25.9,"t":27.4},{"l":0.4931,"y":-109.3,"z":26.1,"t":26.1},
{"l":0.524,"y":-107,"z":24.3,"t":33.6},{"l":0.524,"y":-96.3,"z":24.1,"t":33.6},{"l":0.524,"y":-88.5,"z":24.35,"t":33.6},{"l":0.524,"y":-79.3,"z":24.6,"t":33.6},{"l":0.524,"y":-68.9,"z":25,"t":33.6},{"l":0.524,"y":-58.5,"z":25.8,"t":33.6},{"l":0.524,"y":-48.1,"z":26.05,"t":33.6},{"l":0.524,"y":-42,"z":26.15,"t":33.6},
{"l":0.512,"y":-107,"z":24.4,"t":33.6},{"l":0.512,"y":-103.4,"z":24.4,"t":33.6},{"l":0.512,"y":-100.2,"z":25,"t":33.6},{"l":0.512,"y":-99.6,"z":25.5,"t":33},{"l":0.512,"y":-97.6,"z":27,"t":30.5},{"l":0.512,"y":-96,"z":28.5,"t":28.6},
{"l":0.5001,"y":-103.6,"z":25.6,"t":29},{"l":0.5001,"y":-100.2,"z":26,"t":28.4},{"l":0.5001,"y":-99.5,"z":27,"t":27},
{"l":0.529,"y":-97,"z":32.5,"t":33.2},{"l":0.529,"y":-95,"z":31,"t":33.3},{"l":0.529,"y":-92.4,"z":30.6,"t":33.4},{"l":0.529,"y":-88,"z":30.4,"t":33.4},{"l":0.529,"y":-85.5,"z":29.5,"t":33.4},{"l":0.529,"y":-82,"z":30.4,"t":33.4},{"l":0.529,"y":-75,"z":29.4,"t":33.4},{"l":0.529,"y":-71.5,"z":30.4,"t":33.4},{"l":0.529,"y":-66.3,"z":29.4,"t":33.4},{"l":0.529,"y":-62,"z":29.25,"t":33.4},{"l":0.529,"y":-55.9,"z":30,"t":33.4},{"l":0.529,"y":-51.6,"z":30.9,"t":33.4},{"l":0.529,"y":-46.3,"z":30.4,"t":33.4},{"l":0.529,"y":-42,"z":30.9,"t":33.4},
{"l":0.534,"y":-96,"z":32.2,"t":32.3},{"l":0.534,"y":-92.4,"z":31.4,"t":32.4},{"l":0.534,"y":-83.7,"z":31.2,"t":32.7},{"l":0.534,"y":-75,"z":30.9,"t":32.9},{"l":0.534,"y":-72.4,"z":31.9,"t":31.9},
{"l":0.5341,"y":-69.4,"z":31.9,"t":31.9},{"l":0.5341,"y":-67.2,"z":31.1,"t":33},{"l":0.5341,"y":-64.6,"z":30.4,"t":33.4},{"l":0.5341,"y":-57.6,"z":30.4,"t":33.4},{"l":0.5341,"y":-53.3,"z":31.7,"t":32.9},{"l":0.5341,"y":-52.4,"z":32.2,"t":32.2},
{"l":0.519,"y":-92.4,"z":25.3,"t":28.1},{"l":0.519,"y":-88,"z":25.6,"t":27.9},{"l":0.519,"y":-84,"z":26,"t":27.7},{"l":0.519,"y":-80,"z":26.4,"t":27.3},{"l":0.519,"y":-76,"z":26.8,"t":26.9},
{"l":0.5191,"y":-73.3,"z":26.7,"t":26.8},{"l":0.5191,"y":-72.2,"z":26.7,"t":28.3},{"l":0.5191,"y":-71,"z":26.7,"t":26.8},
{"l":0.5192,"y":-56.3,"z":26.6,"t":26.7},{"l":0.5192,"y":-55.9,"z":26.6,"t":28.8},{"l":0.5192,"y":-50,"z":26.8,"t":28.9},{"l":0.5192,"y":-44,"z":27,"t":29},{"l":0.5192,"y":-42,"z":27,"t":29},
{"l":0.513,"y":-91,"z":26.8,"t":26.8},{"l":0.513,"y":-89.8,"z":26.4,"t":27.2},{"l":0.513,"y":-88.6,"z":26.8,"t":26.8},
{"l":0.5131,"y":-46.8,"z":28.8,"t":28.9},{"l":0.5131,"y":-45.7,"z":27.6,"t":29},{"l":0.5131,"y":-44.7,"z":28.8,"t":28.9},
{"l":0.5481,"y":-85,"z":32,"t":32},{"l":0.5481,"y":-83.7,"z":31.9,"t":32.1},{"l":0.5481,"y":-82,"z":32,"t":32}
]},"mark":{"type":"area","clip":true},"encoding":{"x":{"field":"y","type":"quantitative"},"y":{"field":"z","type":"quantitative","stack":null},"y2":{"field":"t"},"detail":{"field":"l"},"color":{"field":"l","type":"quantitative","legend":null,"scale":{"domain":[0.35,0.38125,0.44375,0.50625,0.56875,0.6],"range":["#000080","#0000ff","#00ffff","#ffff00","#ff0000","#800000"]}}}},
{"data":{"values":[{"y":-143.2,"z":14.73},{"y":0.2,"z":27.95},{"y":74.3,"z":27.95}]},"mark":{"type":"area","color":"#616161"},"encoding":{"x":{"field":"y","type":"quantitative"},"y":{"field":"z","type":"quantitative","stack":null},"y2":{"datum":13.47}}},
{"data":{"values":[{"a":-143.2,"b":-32.2,"z":33.6,"t":51.8}]},"mark":{"type":"rect","color":"#616161"},"encoding":{"x":{"field":"a","type":"quantitative"},"x2":{"field":"b"},"y":{"field":"z","type":"quantitative"},"y2":{"field":"t"}}},
{"data":{"values":[{"a":-107,"b":-103.6,"z":13.47,"t":33.6},{"a":-42,"b":-31.6,"z":13.47,"t":33.6},{"a":0.2,"b":4.9,"z":13.47,"t":51.8}]},"mark":{"type":"rect","color":"#ffffff"},"encoding":{"x":{"field":"a","type":"quantitative"},"x2":{"field":"b"},"y":{"field":"z","type":"quantitative"},"y2":{"field":"t"}}},
{"data":{"values":[{"v":-140},{"v":-120},{"v":-100},{"v":-80},{"v":-60},{"v":-40},{"v":-20},{"v":0},{"v":20},{"v":40},{"v":60}]},"mark":{"type":"rule","color":"#222","strokeWidth":1},"encoding":{"x":{"field":"v","type":"quantitative"},"y":{"datum":13.47},"y2":{"datum":14.1}}},
{"data":{"values":[{"v":15},{"v":20},{"v":25},{"v":30},{"v":35},{"v":40},{"v":45},{"v":50}]},"mark":{"type":"rule","color":"#222","strokeWidth":1},"encoding":{"y":{"field":"v","type":"quantitative"},"x":{"datum":-143.2},"x2":{"datum":-141.1}}},
{"data":{"values":[{"y":-88.2,"z":42.9,"n":"Ice Shelf"},{"y":28.3,"z":19.87,"n":"Sea Floor"}]},"mark":{"type":"text","fontSize":23,"color":"#111"},"encoding":{"x":{"field":"y","type":"quantitative"},"y":{"field":"z","type":"quantitative"},"text":{"field":"n"}}}
]},
{"width":23,"height":503,"layer":[
{"data":{"values":[{"a":0.35,"b":0.354,"c":0.352},{"a":0.354,"b":0.358,"c":0.356},{"a":0.358,"b":0.362,"c":0.36},{"a":0.362,"b":0.366,"c":0.364},{"a":0.366,"b":0.37,"c":0.368},{"a":0.37,"b":0.374,"c":0.372},{"a":0.374,"b":0.378,"c":0.376},{"a":0.378,"b":0.382,"c":0.38},{"a":0.382,"b":0.386,"c":0.384},{"a":0.386,"b":0.39,"c":0.388},{"a":0.39,"b":0.394,"c":0.392},{"a":0.394,"b":0.398,"c":0.396},{"a":0.398,"b":0.402,"c":0.4},{"a":0.402,"b":0.406,"c":0.404},{"a":0.406,"b":0.41,"c":0.408},{"a":0.41,"b":0.414,"c":0.412},{"a":0.414,"b":0.418,"c":0.416},{"a":0.418,"b":0.422,"c":0.42},{"a":0.422,"b":0.426,"c":0.424},{"a":0.426,"b":0.43,"c":0.428},{"a":0.43,"b":0.434,"c":0.432},{"a":0.434,"b":0.438,"c":0.436},{"a":0.438,"b":0.442,"c":0.44},{"a":0.442,"b":0.446,"c":0.444},{"a":0.446,"b":0.45,"c":0.448},{"a":0.45,"b":0.454,"c":0.452},{"a":0.454,"b":0.458,"c":0.456},{"a":0.458,"b":0.462,"c":0.46},{"a":0.462,"b":0.466,"c":0.464},{"a":0.466,"b":0.47,"c":0.468},{"a":0.47,"b":0.474,"c":0.472},{"a":0.474,"b":0.478,"c":0.476},{"a":0.478,"b":0.482,"c":0.48},{"a":0.482,"b":0.486,"c":0.484},{"a":0.486,"b":0.49,"c":0.488},{"a":0.49,"b":0.494,"c":0.492},{"a":0.494,"b":0.498,"c":0.496},{"a":0.498,"b":0.502,"c":0.5},{"a":0.502,"b":0.506,"c":0.504},{"a":0.506,"b":0.51,"c":0.508},{"a":0.51,"b":0.514,"c":0.512},{"a":0.514,"b":0.518,"c":0.516},{"a":0.518,"b":0.522,"c":0.52},{"a":0.522,"b":0.526,"c":0.524},{"a":0.526,"b":0.53,"c":0.528},{"a":0.53,"b":0.534,"c":0.532},{"a":0.534,"b":0.538,"c":0.536},{"a":0.538,"b":0.542,"c":0.54},{"a":0.542,"b":0.546,"c":0.544},{"a":0.546,"b":0.55,"c":0.548},{"a":0.55,"b":0.554,"c":0.552},{"a":0.554,"b":0.558,"c":0.556},{"a":0.558,"b":0.562,"c":0.56},{"a":0.562,"b":0.566,"c":0.564},{"a":0.566,"b":0.57,"c":0.568},{"a":0.57,"b":0.574,"c":0.572},{"a":0.574,"b":0.578,"c":0.576},{"a":0.578,"b":0.582,"c":0.58},{"a":0.582,"b":0.586,"c":0.584},{"a":0.586,"b":0.59,"c":0.588},{"a":0.59,"b":0.594,"c":0.592},{"a":0.594,"b":0.6,"c":0.597}]},"mark":{"type":"rect","strokeWidth":0.7},"encoding":{"y":{"field":"a","type":"quantitative","scale":{"domain":[0.35,0.6],"nice":false,"zero":false},"title":null,"axis":{"orient":"right","values":[0.35,0.4,0.45,0.5,0.55],"format":".2~f","tickSize":0,"domain":false,"grid":false,"labelFontSize":17,"labelColor":"#111","labelPadding":5}},"y2":{"field":"b"},"color":{"field":"c","type":"quantitative","legend":null,"scale":{"domain":[0.35,0.38125,0.44375,0.50625,0.56875,0.6],"range":["#000080","#0000ff","#00ffff","#ffff00","#ff0000","#800000"]}},"stroke":{"field":"c","type":"quantitative","legend":null,"scale":{"domain":[0.35,0.38125,0.44375,0.50625,0.56875,0.6],"range":["#000080","#0000ff","#00ffff","#ffff00","#ff0000","#800000"]}}}},
{"data":{"values":[{"t":0.4,"a":0,"b":0.2},{"t":0.4,"a":0.8,"b":1},{"t":0.45,"a":0,"b":0.2},{"t":0.45,"a":0.8,"b":1},{"t":0.5,"a":0,"b":0.2},{"t":0.5,"a":0.8,"b":1},{"t":0.55,"a":0,"b":0.2},{"t":0.55,"a":0.8,"b":1}]},"mark":{"type":"rule","color":"#111"},"encoding":{"y":{"field":"t","type":"quantitative"},"x":{"field":"a","type":"quantitative","scale":{"domain":[0,1],"nice":false},"axis":null},"x2":{"field":"b"}}},
{"data":{"values":[{"a":0,"b":1,"z":0.35,"t":0.6}]},"mark":{"type":"rect","fillOpacity":0,"stroke":"#222","strokeWidth":1.5},"encoding":{"x":{"field":"a","type":"quantitative"},"x2":{"field":"b"},"y":{"field":"z","type":"quantitative"},"y2":{"field":"t"}}}
]}],"resolve":{"scale":{"color":"independent"}}}
